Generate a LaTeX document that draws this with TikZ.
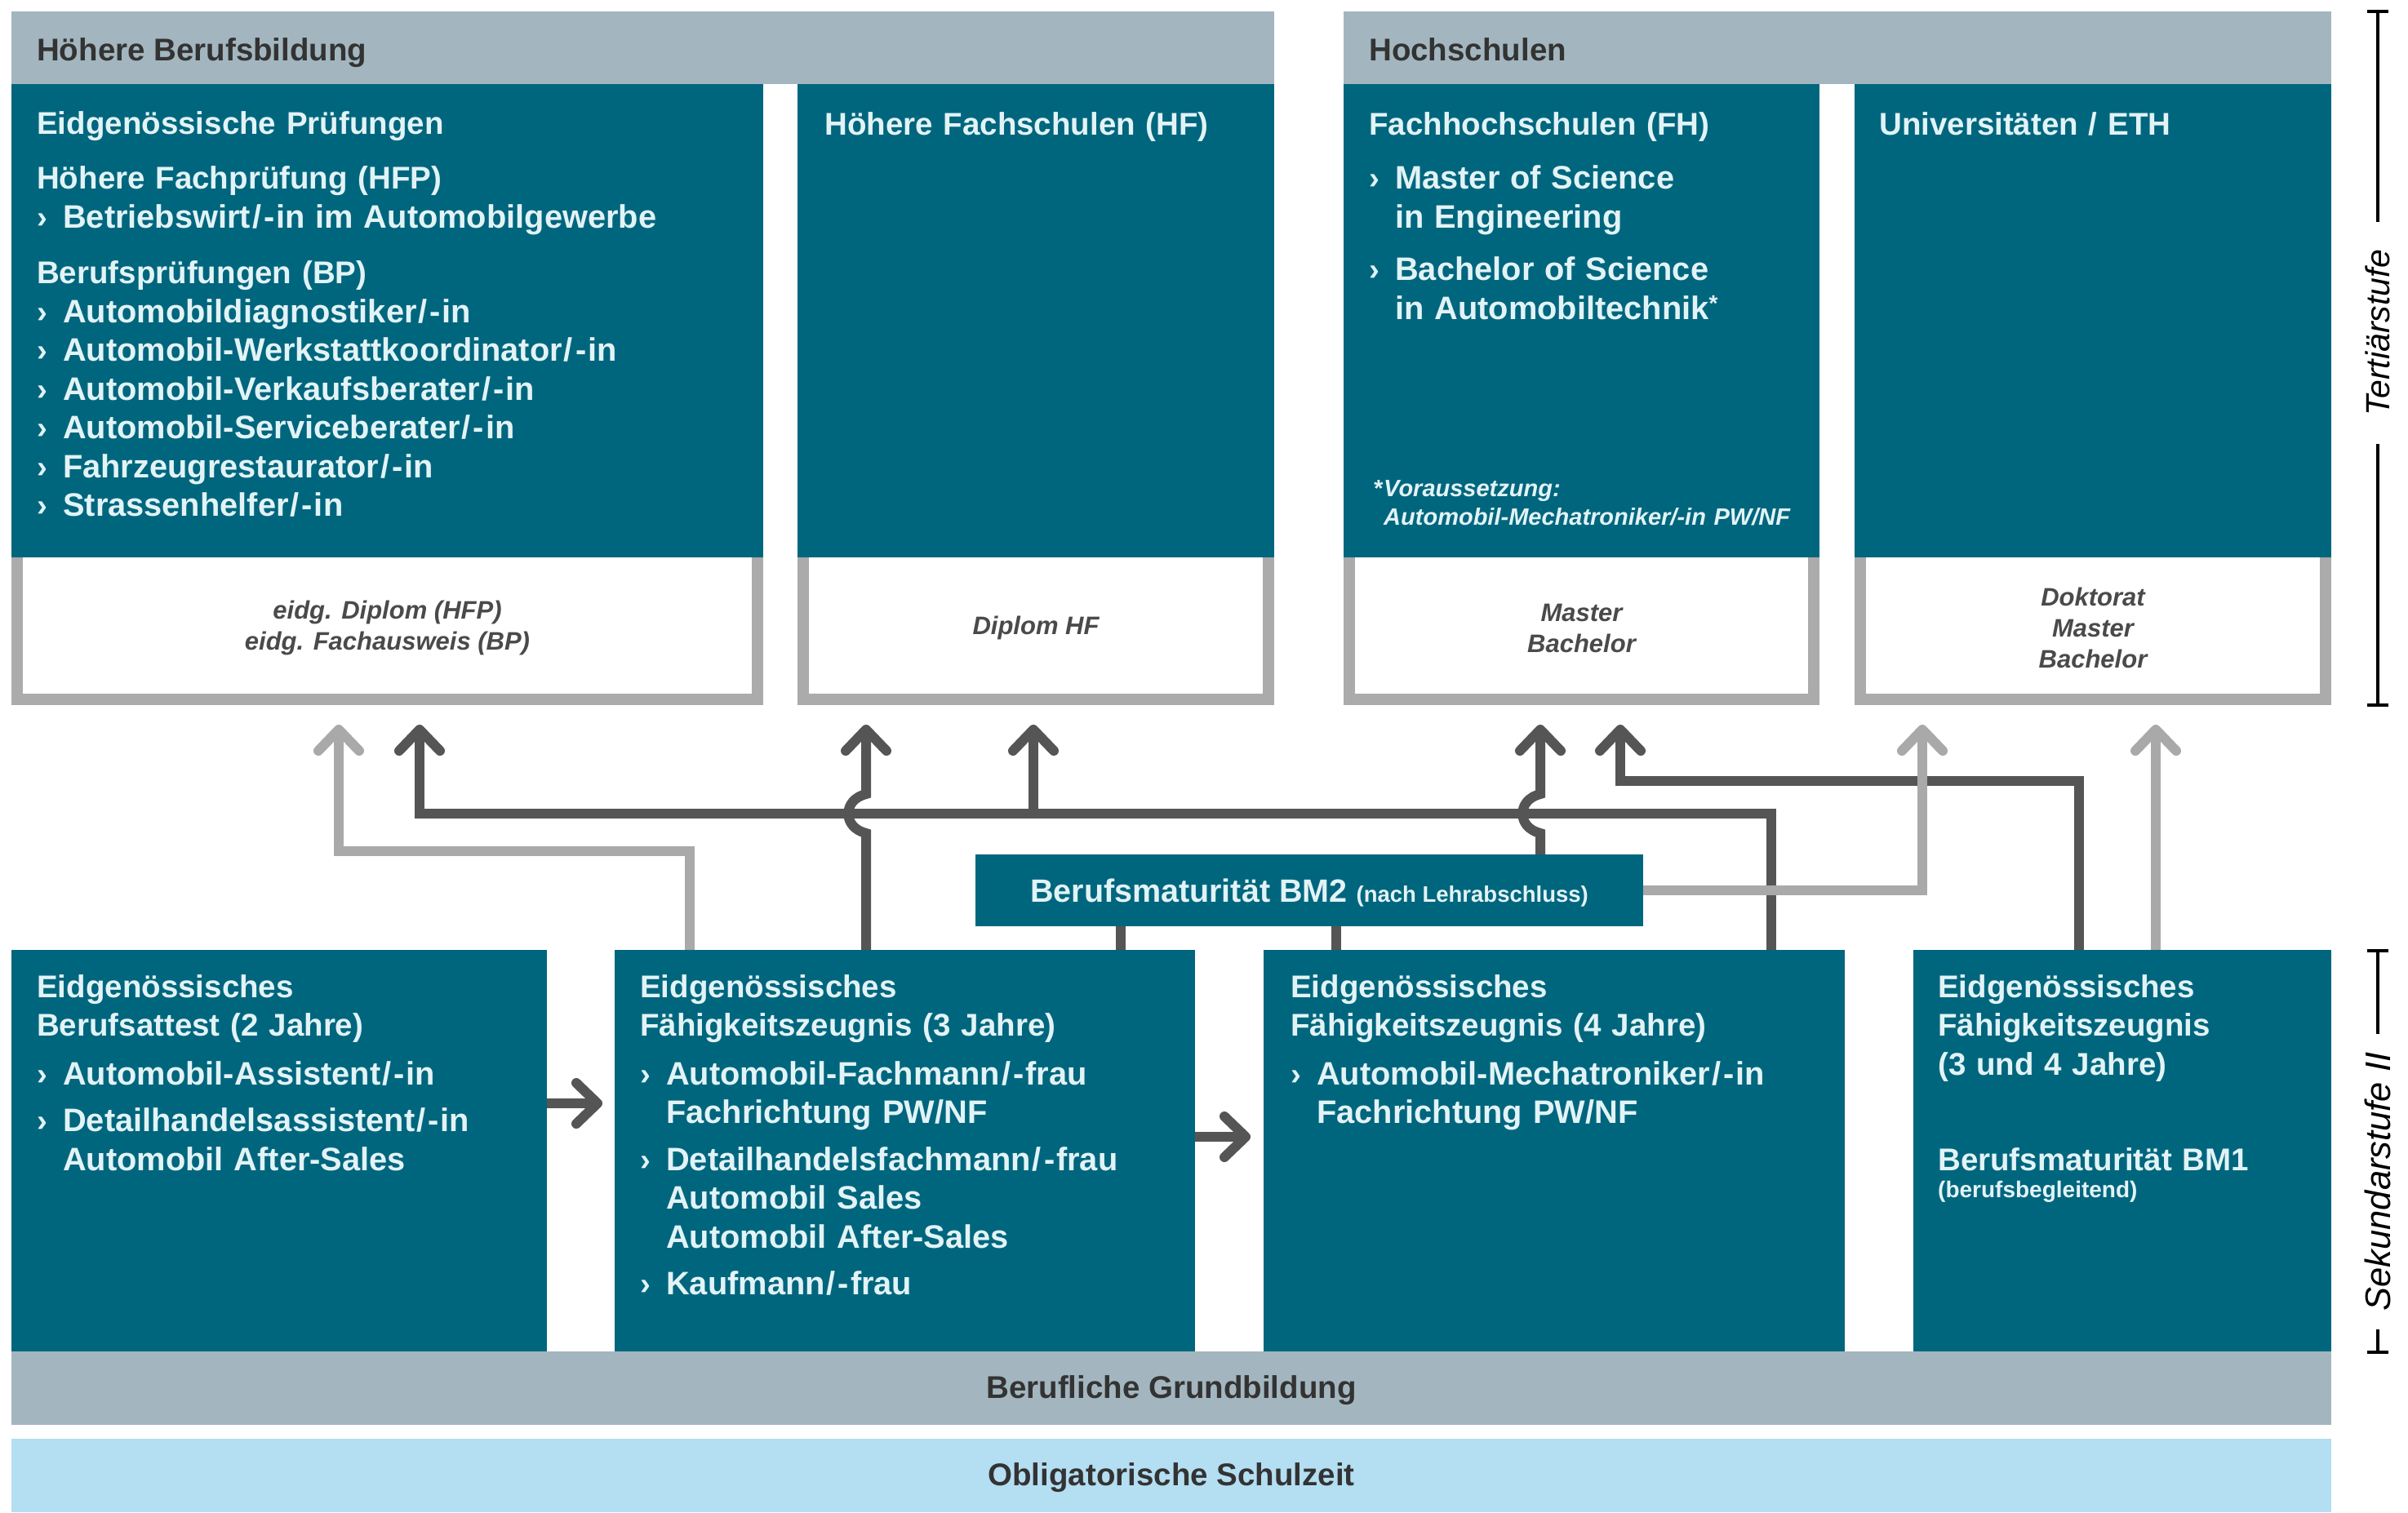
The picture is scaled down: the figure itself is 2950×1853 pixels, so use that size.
\documentclass[tikz,border=0pt]{standalone}
\usepackage{fontspec}
\setmainfont{Liberation Sans}
\usetikzlibrary{arrows.meta,calc}
\definecolor{teal1}{HTML}{00667E}
\definecolor{hdr}{HTML}{A3B6BF}
\definecolor{lblue}{HTML}{B4DEF2}
\definecolor{bord}{HTML}{ABABAB}
\definecolor{dkl}{HTML}{555555}
\definecolor{ltl}{HTML}{A9A9A9}
\definecolor{txl}{HTML}{E2F3F6}
\definecolor{txd}{HTML}{333333}
\definecolor{txw}{HTML}{4A4A4A}
\newcommand\mainsz{\fontsize{38.5}{47.5}\selectfont}
\newcommand\itemsz{\fontsize{39.8}{47.5}\selectfont}
\newcommand\bu[1]{\makebox[32pt][l]{›}{\itemsz #1}}
\newcommand\ind[1]{\hspace*{32pt}{\itemsz #1}}
\newcommand\sd{\kern2pt/\kern3pt-\kern2pt}
\newcommand\mkbox[6]{\node[#2,minimum width={(#5)-(#3)},minimum height={(#6)-(#4)}] (#1) at (#3,#4) {};}
\begin{document}
\begin{tikzpicture}[x=1pt,y=-1pt,
  box/.style={anchor=north west,inner sep=0pt,outer sep=0pt,draw=none},
  tealbox/.style={box,fill=teal1},
  hdrbox/.style={box,fill=hdr},
  bluebox/.style={box,fill=lblue},
  wbox/.style={box,fill=white,draw=bord,line width=14pt},
  tt/.style={anchor=base west,inner sep=0pt,align=left,text=txl,font=\bfseries\mainsz},
  hd/.style={anchor=base west,inner sep=0pt,text=txd,font=\bfseries\mainsz},
  bar/.style={anchor=base,inner sep=0pt,text=txd,font=\bfseries\mainsz},
  wt/.style={align=center,inner sep=0pt,text=txw,font=\bfseries\itshape\fontsize{31}{38}\selectfont},
  fn/.style={anchor=base west,inner sep=0pt,align=left,text=txl,font=\bfseries\itshape\fontsize{29}{35}\selectfont},
  side/.style={rotate=90,inner ysep=0pt,text=black,font=\itshape\fontsize{41}{48}\selectfont},
  brk/.style={line width=3.5pt,draw=black},
  con/.style={line width=12pt},
  dk/.style={con,draw=dkl},
  lt/.style={con,draw=ltl},
  arr/.style={-{Straight Barb[length=26pt,width=50pt,round]}}
]
\useasboundingbox (0,0) rectangle (2950,1853);
% headers
\mkbox{hA}{hdrbox}{14}{14}{1561}{103}
\mkbox{hB}{hdrbox}{1646}{14}{2856}{103}
% white certificate boxes
\mkbox{epw}{wbox}{21}{676}{928}{857}
\mkbox{hfw}{wbox}{984}{676}{1554}{857}
\mkbox{fhw}{wbox}{1653}{676}{2222}{857}
\mkbox{uniw}{wbox}{2279}{676}{2849}{857}
% teal top boxes
\mkbox{ep}{tealbox}{14}{103}{935}{683}
\mkbox{hf}{tealbox}{977}{103}{1561}{683}
\mkbox{fh}{tealbox}{1646}{103}{2229}{683}
\mkbox{uni}{tealbox}{2272}{103}{2856}{683}
% bottom boxes
\mkbox{ba}{tealbox}{14}{1164}{670}{1656}
\mkbox{efz3}{tealbox}{753}{1164}{1464}{1656}
\mkbox{efz4}{tealbox}{1548}{1164}{2260}{1656}
\mkbox{efz34}{tealbox}{2344}{1164}{2856}{1656}
\mkbox{bm2}{tealbox}{1195}{1047}{2013}{1135}
\mkbox{gb}{hdrbox}{14}{1656}{2856}{1746}
\mkbox{os}{bluebox}{14}{1763}{2856}{1853}

% header texts
\node[hd] (hA-t) at ([shift={(31,60)}]hA.north west) {Höhere Berufsbildung};
\node[hd] (hB-t) at ([shift={(31,60)}]hB.north west) {Hochschulen};

% top box texts
\node[tt,text width=880pt] (ep-t) at ([shift={(31,61)}]ep.north west)
 {Eidgenössische Prüfungen\\[20pt]
  Höhere Fachprüfung (HFP)\\
  \bu{Betriebswirt\sd in im Automobilgewerbe}\\[21pt]
  Berufsprüfungen (BP)\\
  \bu{Automobildiagnostiker\sd in}\\
  \bu{Automobil-Werkstattkoordinator\sd in}\\
  \bu{Automobil-Verkaufsberater\sd in}\\
  \bu{Automobil-Serviceberater\sd in}\\
  \bu{Fahrzeugrestaurator\sd in}\\
  \bu{Strassenhelfer\sd in}};
\node[tt,text width=540pt] (hf-t) at ([shift={(33,62)}]hf.north west) {Höhere Fachschulen (HF)};
\node[tt,text width=540pt] (fh-t) at ([shift={(31,62)}]fh.north west)
 {Fachhochschulen (FH)\\[19pt]
  \bu{Master of Science}\\
  \ind{in Engineering}\\[17pt]
  \bu{Bachelor of Science}\\
  \ind{in Automobiltechnik\textsuperscript{*}}};
\node[fn,text width=540pt] (fh-fn) at ([shift={(36,505)}]fh.north west)
 {\makebox[13pt][l]{*}Voraussetzung:\\
  \hspace*{13pt}Automobil-Mechatroniker/-in PW/NF};
\node[tt,text width=540pt] (uni-t) at ([shift={(30,62)}]uni.north west) {Universitäten / ETH};

% certificate texts
\node[wt] (epw-t) at ([yshift=-3pt]epw.center) {eidg. Diplom (HFP)\\ eidg. Fachausweis (BP)};
\node[wt] (hfw-t) at ([yshift=-3pt]hfw.center) {Diplom HF};
\node[wt] (fhw-t) at ([yshift=-3pt]fhw.center) {Master\\ Bachelor};
\node[wt] (uniw-t) at ([yshift=-3pt]uniw.center) {Doktorat\\ Master\\ Bachelor};

% bottom box texts
\node[tt,text width=600pt] (ba-t) at ([shift={(31,58)}]ba.north west)
 {Eidgenössisches\\
  Berufsattest (2 Jahre)\\[12pt]
  \bu{Automobil-Assistent\sd in}\\[10pt]
  \bu{Detailhandelsassistent\sd in}\\
  \ind{Automobil After-Sales}};
\node[tt,text width=680pt] (efz3-t) at ([shift={(31,58)}]efz3.north west)
 {Eidgenössisches\\
  Fähigkeitszeugnis (3 Jahre)\\[12pt]
  \bu{Automobil-Fachmann\sd frau}\\
  \ind{Fachrichtung PW/NF}\\[10pt]
  \bu{Detailhandelsfachmann\sd frau}\\
  \ind{Automobil Sales}\\
  \ind{Automobil After-Sales}\\[10pt]
  \bu{Kaufmann\sd frau}};
\node[tt,text width=680pt] (efz4-t) at ([shift={(33,58)}]efz4.north west)
 {Eidgenössisches\\
  Fähigkeitszeugnis (4 Jahre)\\[12pt]
  \bu{Automobil-Mechatroniker\sd in}\\
  \ind{Fachrichtung PW/NF}};
\node[tt,text width=480pt] (efz34-t) at ([shift={(30,58)}]efz34.north west)
 {Eidgenössisches\\
  Fähigkeitszeugnis\\
  (3 und 4 Jahre)\\[70pt]
  Berufsmaturität BM1};
\node[tt,font=\bfseries\fontsize{28}{32}\selectfont] (efz34-s) at ([shift={(30,303)}]efz34.north west) {(berufsbegleitend)};
\node[anchor=base,inner sep=0pt,text=txl,font=\bfseries\fontsize{39.5}{47.5}\selectfont] (bm2-t) at ([yshift=-14pt]bm2.center)
 {Berufsmaturität BM2 {\fontsize{27.5}{30}\selectfont(nach Lehrabschluss)}};

% bar texts
\node[bar] (gb-t) at ([yshift=-12pt]gb.center) {Berufliche Grundbildung};
\node[bar] (os-t) at ([yshift=-12pt]os.center) {Obligatorische Schulzeit};

% side labels
\node[side,inner xsep=34pt] (tert) at (2913,408) {Tertiärstufe};
\node[side,inner xsep=22pt,font=\itshape\fontsize{43.5}{48}\selectfont] (sek) at (2913,1448) {Sekundarstufe II};
\draw[brk] (2913,14) -- (tert.east);
\draw[brk] (tert.west) -- (2913,864);
\draw[brk] (2900,14) -- (2926,14);
\draw[brk] (2900,864) -- (2926,864);
\draw[brk] (2913,1165) -- (sek.east);
\draw[brk] (sek.west) -- (2913,1657);
\draw[brk] (2900,1165) -- (2926,1165);
\draw[brk] (2900,1657) -- (2926,1657);

% connectors
\coordinate (tip) at ([yshift=-31pt]epw.south);
\coordinate (h1) at (0,1352);
\coordinate (h2) at (0,1393);
\coordinate (jHF) at (1266,997);

% dark
\draw[dk,arr] (efz4.north -| 2170,0) |- (514,997) -- (tip -| 514,0);
\draw[dk,arr] (jHF) -- (tip -| 1266,0);
\draw[dk,arr] (efz3.north -| 1061,0) -- (1061,1021) .. controls (1032,1014) and (1032,980) .. (1061,973) -- (tip -| 1061,0);
\draw[dk,arr] (bm2.north -| 1887,0) -- (1887,1021) .. controls (1858,1014) and (1858,980) .. (1887,973) -- (tip -| 1887,0);
\draw[dk,arr] (efz34.north -| 2547,0) |- (1985,957) -- (tip -| 1985,0);
\draw[dk] (bm2.south -| 1373,0) -- (efz3.north -| 1373,0);
\draw[dk] (bm2.south -| 1637,0) -- (efz4.north -| 1637,0);
\draw[dk,arr,shorten >=15pt] (ba.east |- h1) -- (efz3.west |- h1);
\draw[dk,arr,shorten >=16pt] (efz3.east |- h2) -- (efz4.west |- h2);

% light
\draw[lt,arr] (efz3.north -| 845,0) |- (415,1043) -- (tip -| 415,0);
\draw[lt,arr] (bm2.east) -| (tip -| 2355,0);
\draw[lt,arr] (efz34.north -| 2641,0) -- (tip -| 2641,0);
\end{tikzpicture}
\end{document}
